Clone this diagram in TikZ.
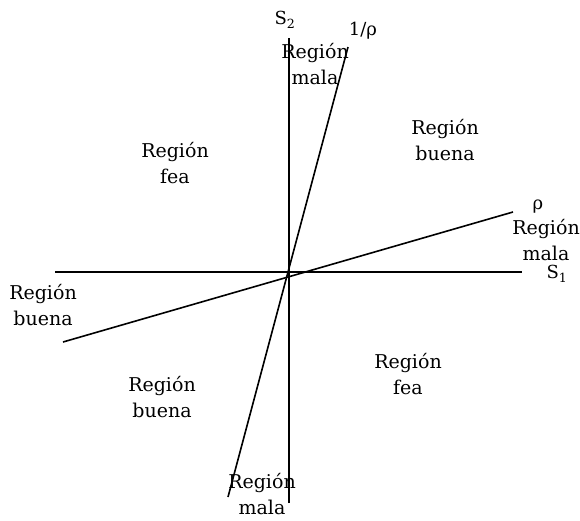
\documentclass[tikz,border=0pt]{standalone}
\usepackage{fontspec}
\setmainfont{DejaVu Serif}
\usetikzlibrary{positioning}
\tikzset{
  every picture/.style={line width=1.6pt},
  region/.style={align=center, font=\fontsize{19}{26}\selectfont, inner sep=0pt},
  axislabel/.style={font=\fontsize{18}{22}\selectfont, inner sep=0pt},
}

\begin{document}
\begin{tikzpicture}[x=1pt, y=-1pt]
  \useasboundingbox (0,0) rectangle (580,520);
  % axes and the two lines through the origin
  \coordinate (s1w) at (55,272); \coordinate (s1e) at (522,272);
  \coordinate (s2s) at (289,503); \coordinate (s2n) at (289,38);
  \coordinate (rhow) at (63,342); \coordinate (rhoe) at (513,212);
  \coordinate (irhos) at (228,497); \coordinate (irhon) at (348,47);
  \draw (s1w) -- (s1e); \draw (s2s) -- (s2n);
  \draw (rhow) -- (rhoe); \draw (irhos) -- (irhon);
  \node[axislabel] (s1) at (557,274) {S\textsubscript{1}};
  \node[axislabel] (s2) at (285,20) {S\textsubscript{2}};
  \node[axislabel] (rho) at (538,207) {ρ};
  \node[axislabel] (irho) at (363,31) {1/ρ};
  % regions
  \node[region] (mala1) at (315,64) {Región\\mala};
  \node[region] (mala2) at (546,240) {Región\\mala};
  \node[region] (mala3) at (262,494) {Región\\mala};
  \node[region] (buena1) at (445,140) {Región\\buena};
  \node[region] (buena2) at (43,305) {Región\\buena};
  \node[region] (buena3) at (162,397) {Región\\buena};
  \node[region] (fea1) at (175,163) {Región\\fea};
  \node[region] (fea2) at (408,374) {Región\\fea};
\end{tikzpicture}
\end{document}
